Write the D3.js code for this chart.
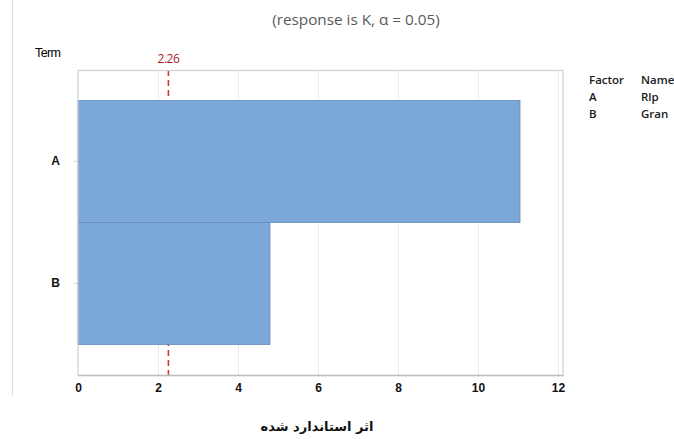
<!DOCTYPE html>
<html>
<head>
<meta charset="utf-8">
<script src="https://cdn.jsdelivr.net/npm/d3@7"></script>
<style>
  body { margin: 0; background: #fff; }
  svg { display: block; }
</style>
</head>
<body>
<svg id="chart" width="674" height="439"></svg>
<script>
// Standardized effects of terms (Pareto chart)
const terms = ["A", "B"];
const effects = [11.05, 4.8];
const refValue = 2.26;
const xTicks = [0, 2, 4, 6, 8, 10, 12];
const factorCodes = ["A", "B"];
const factorNames = ["Rlp", "Gran"];

const svg = d3.select("#chart");
const plot = { left: 78, right: 563, top: 70, bottom: 375 };

const x = d3.scaleLinear().domain([0, 12.125]).range([plot.left, plot.right]);
const y = d3.scaleBand().domain(terms).range([plot.top, plot.bottom])
  .paddingInner(0).paddingOuter(0.25);

// outer left border line of the graph window
svg.append("line")
  .attr("x1", 12.5).attr("x2", 12.5).attr("y1", 0).attr("y2", 395)
  .attr("stroke", "#dcdcdc").attr("stroke-width", 1);

// title
svg.append("text")
  .attr("x", 356).attr("y", 25)
  .attr("text-anchor", "middle")
  .attr("font-family", "'Open Sans', sans-serif")
  .attr("font-size", 15.3)
  .attr("fill", "#5a5a5a")
  .text("(response is K, α = 0.05)");

// gridlines
svg.append("g").selectAll("line")
  .data(xTicks.filter(d => d > 0))
  .join("line")
  .attr("x1", d => x(d) + 0.5).attr("x2", d => x(d) + 0.5)
  .attr("y1", plot.top).attr("y2", plot.bottom)
  .attr("stroke", "#ececec").attr("stroke-width", 1);

// reference line (drawn behind the bars)
svg.append("line")
  .attr("x1", x(refValue)).attr("x2", x(refValue))
  .attr("y1", plot.top).attr("y2", plot.bottom)
  .attr("stroke", "#d2383a").attr("stroke-width", 1.6)
  .attr("stroke-dasharray", "6,4");

svg.append("text")
  .attr("x", x(refValue)).attr("y", 63)
  .attr("text-anchor", "middle")
  .attr("font-family", "'Open Sans', sans-serif")
  .attr("font-size", 12)
  .attr("letter-spacing", "-0.5")
  .attr("fill", "#a61c1c")
  .text(refValue.toFixed(2));

// bars
svg.append("g").selectAll("rect")
  .data(terms.map((t, i) => ({ term: t, value: effects[i] })))
  .join("rect")
  .attr("x", x(0))
  .attr("y", d => y(d.term))
  .attr("width", d => x(d.value) - x(0))
  .attr("height", y.bandwidth())
  .attr("fill", "#7ca7d9")
  .attr("stroke", "#6489bd")
  .attr("stroke-width", 0.8);

// plot frame
svg.append("rect")
  .attr("x", plot.left).attr("y", plot.top + 0.5)
  .attr("width", plot.right - plot.left).attr("height", plot.bottom - plot.top)
  .attr("fill", "none").attr("stroke", "#d0d0d0").attr("stroke-width", 1.2);

// x axis
const xAxis = svg.append("g")
  .attr("transform", `translate(0,${plot.bottom})`)
  .call(d3.axisBottom(x).tickValues(xTicks).tickSize(0).tickPadding(8).tickFormat(d3.format("d")));
xAxis.select(".domain").attr("stroke", "#bdbdbd").attr("stroke-width", 1.5);
xAxis.selectAll("text")
  .attr("font-family", "'Liberation Sans', Arial, sans-serif")
  .attr("font-weight", "bold")
  .attr("font-size", 12)
  .attr("fill", "#111");

// y axis
const yAxis = svg.append("g")
  .attr("transform", `translate(${plot.left},0)`)
  .call(d3.axisLeft(y).tickSize(4).tickPadding(14));
yAxis.select(".domain").remove();
yAxis.selectAll(".tick line").attr("stroke", "#cfcfcf");
yAxis.selectAll("text")
  .attr("font-family", "'Liberation Sans', Arial, sans-serif")
  .attr("font-weight", "bold")
  .attr("font-size", 12)
  .attr("fill", "#111");

// axis titles
svg.append("text")
  .attr("x", 35).attr("y", 57)
  .attr("font-family", "'Liberation Sans', Arial, sans-serif")
  .attr("font-size", 12.5)
  .attr("letter-spacing", "-0.6")
  .attr("fill", "#000")
  .text("Term");

svg.append("text")
  .attr("x", 317).attr("y", 431)
  .attr("text-anchor", "middle")
  .attr("font-family", "'DejaVu Sans', sans-serif")
  .attr("font-weight", "bold")
  .attr("font-size", 13)
  .attr("fill", "#111")
  .text("اثر استاندارد شده");

// factor legend
const leg = svg.append("g")
  .attr("font-family", "'Open Sans', sans-serif")
  .attr("font-size", 11.5)
  .attr("font-weight", 600)
  .attr("fill", "#1a1a1a");
leg.append("text").attr("x", 589).attr("y", 84).text("Factor");
leg.append("text").attr("x", 641).attr("y", 84).text("Name");
factorCodes.forEach((c, i) => {
  leg.append("text").attr("x", 589).attr("y", 101 + i * 17).text(c);
  leg.append("text").attr("x", 641).attr("y", 101 + i * 17).text(factorNames[i]);
});
</script>
</body>
</html>
